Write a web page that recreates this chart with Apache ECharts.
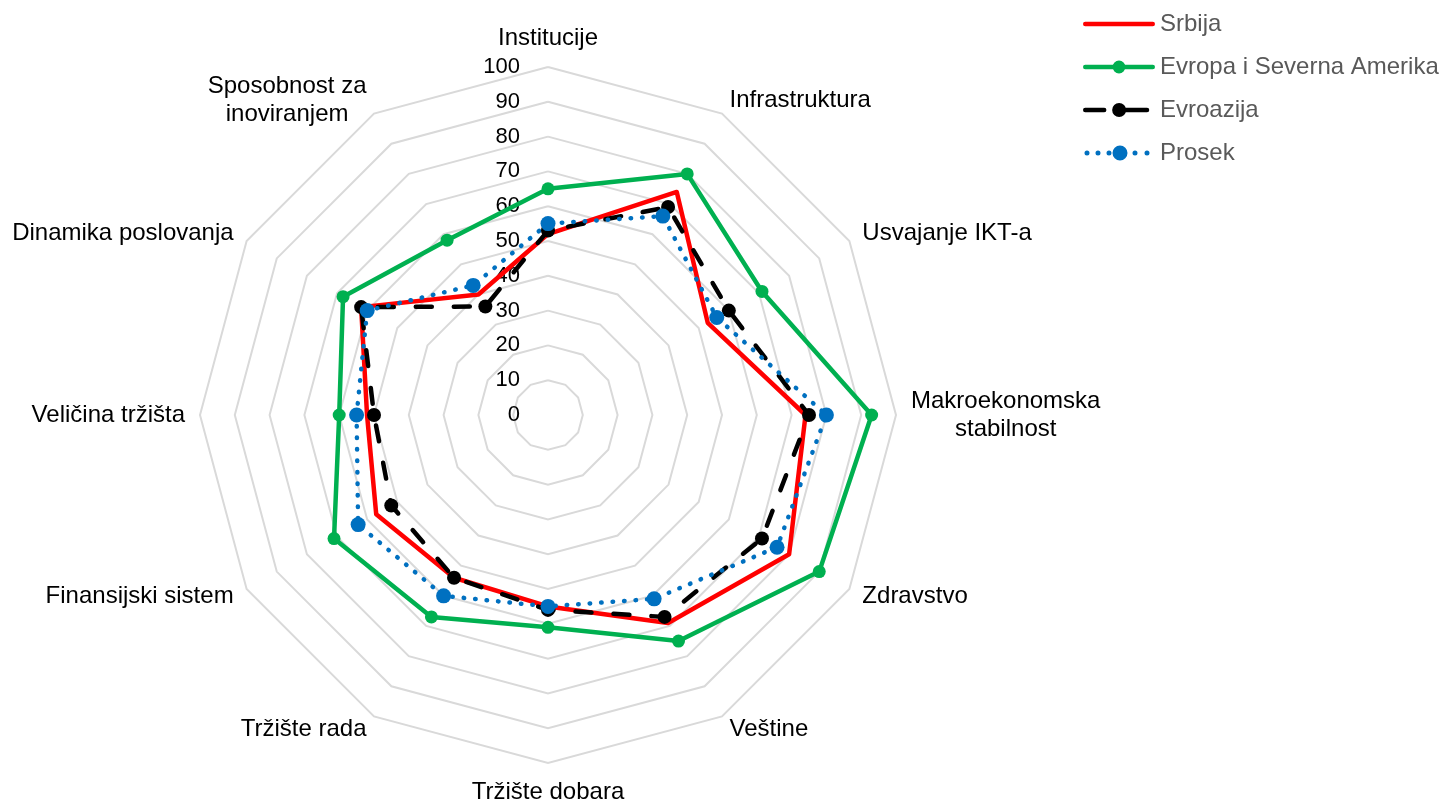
<!DOCTYPE html>
<html lang="sr">
<head>
<meta charset="UTF-8">
<title>Radar</title>
<style>
    html, body { margin: 0; padding: 0; background: #fff; }
    #chart { width: 1444px; height: 804px; }
</style>
</head>
<body>
<div id="chart"></div>
<script src="https://cdn.jsdelivr.net/npm/echarts@6/dist/echarts.min.js"></script>
<script>
// clockwise order, starting at the top
var categories = ['Institucije', 'Infrastruktura', 'Usvajanje IKT-a', 'Makroekonomska\nstabilnost', 'Zdravstvo', 'Veštine',
    'Tržište dobara', 'Tržište rada', 'Finansijski sistem', 'Veličina tržišta', 'Dinamika poslovanja', 'Sposobnost za\ninoviranjem'];
var seriesNames = ['Srbija', 'Evropa i Severna Amerika', 'Evroazija', 'Prosek'];
var srbija = [52, 74, 53, 74, 80, 69, 55, 54, 57, 52, 62, 40];
var evropa = [65, 80, 71, 93, 90, 75, 61, 67, 71, 60, 68, 58];
var evroazija = [53, 69, 60, 75, 71, 67, 56, 54, 52, 50, 62, 36];
var prosek = [55, 66, 56, 80, 76, 61, 55, 60, 63, 55, 60, 43];
var scaleMin = 0, scaleMax = 100, scaleSplits = 10;

var FONT = '"Liberation Sans", Arial, sans-serif';

// echarts radar runs counter-clockwise, so keep the first item and reverse the rest
function cw(arr) {
    return [arr[0]].concat(arr.slice(1).reverse());
}

// little path helpers for the legend icons
function circ(cx, cy, r) {
    return 'M' + (cx - r) + ',' + cy + ' A' + r + ',' + r + ' 0 1 1 ' + (cx + r) + ',' + cy +
        ' A' + r + ',' + r + ' 0 1 1 ' + (cx - r) + ',' + cy + ' Z ';
}
function bar(x0, x1, cy, h) {
    return 'M' + x0 + ',' + (cy - h / 2) + ' L' + x1 + ',' + (cy - h / 2) + ' L' + x1 + ',' + (cy + h / 2) + ' L' + x0 + ',' + (cy + h / 2) + ' Z ';
}
var specks = 'M0,0 L0.01,0 L0,0.01 Z M72,15 L71.99,15 L72,14.99 Z ';
var icons = [
    'path://' + specks + bar(2, 70, 7.5, 4.5) + circ(2, 7.5, 2.25) + circ(70, 7.5, 2.25),
    'path://' + specks + bar(2, 70, 7.5, 4.5) + circ(2, 7.5, 2.25) + circ(70, 7.5, 2.25) + circ(36, 7.5, 6.5),
    'path://' + specks + bar(2, 21, 7.5, 4.5) + circ(2, 7.5, 2.25) + circ(21, 7.5, 2.25) + bar(36, 64, 7.5, 4.5) + circ(64, 7.5, 2.25) + circ(36, 7.5, 7),
    'path://' + specks + circ(4, 7.5, 2.5) + circ(15, 7.5, 2.5) + circ(26, 7.5, 2.5) + circ(37, 7.5, 7.5) + circ(52, 7.5, 2.5) + circ(64, 7.5, 2.5)
];

var chart = echarts.init(document.getElementById('chart'));

var indicator = cw(categories).map(function (name, i) {
    var item = { name: name, min: scaleMin, max: scaleMax };
    if (i === 0) {
        item.axisLabel = { show: true };
    }
    return item;
});

function radarSeries(name, values, color, lineType, symbolSize) {
    return {
        type: 'radar',
        name: name,
        symbol: symbolSize ? 'circle' : 'none',
        symbolSize: symbolSize,
        lineStyle: { color: color, width: 4.5, type: lineType, cap: 'round' },
        itemStyle: { color: color, borderWidth: 0 },
        emphasis: { disabled: true },
        data: [{ name: name, value: cw(values) }]
    };
}

var option = {
    animation: false,
    legend: {
        orient: 'vertical',
        left: 1078,
        top: 7,
        itemWidth: 72,
        itemHeight: 15,
        itemGap: 19,
        selectedMode: false,
        itemStyle: { borderWidth: 0 },
        textStyle: { fontSize: 24, color: '#595959', fontFamily: FONT },
        data: seriesNames.map(function (n, i) {
            return { name: n, icon: icons[i] };
        })
    },
    radar: {
        center: [548, 415],
        radius: 348,
        startAngle: 90,
        splitNumber: scaleSplits,
        shape: 'polygon',
        nameGap: 15,
        axisName: {
            color: '#000',
            fontSize: 24,
            fontFamily: FONT,
            formatter: function (name) {
                return name.split('\n').map(function (l) { return '{c|' + l + '}'; }).join('\n');
            },
            rich: {
                c: { align: 'center', fontSize: 24, color: '#000', fontFamily: FONT, lineHeight: 28 }
            }
        },
        splitLine: { lineStyle: { color: '#d9d9d9', width: 2 } },
        splitArea: { show: false },
        axisLine: { show: false },
        axisTick: { show: false },
        axisLabel: { show: false, fontSize: 22, color: '#000', fontFamily: FONT, margin: 28 },
        indicator: indicator
    },
    series: [
        radarSeries(seriesNames[0], srbija, '#ff0000', 'solid', 0),
        radarSeries(seriesNames[1], evropa, '#00b050', 'solid', 13),
        radarSeries(seriesNames[2], evroazija, '#000000', [16, 22], 14),
        radarSeries(seriesNames[3], prosek, '#0070c0', [0.5, 11], 15)
    ]
};
chart.setOption(option);
</script>
</body>
</html>
